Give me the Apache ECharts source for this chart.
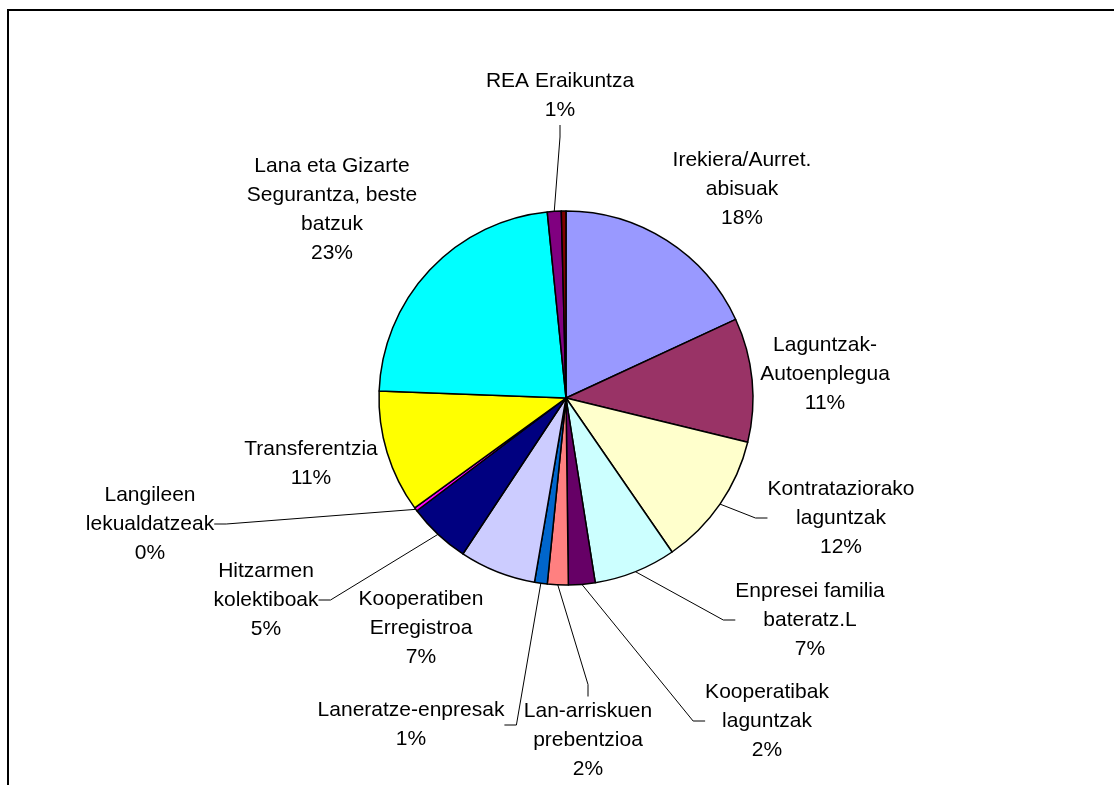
<!DOCTYPE html>
<html>
<head>
<meta charset="utf-8">
<script src="https://cdn.jsdelivr.net/npm/echarts@6/dist/echarts.min.js"></script>
<style>
  html, body { margin: 0; padding: 0; background: #fff; }
  #chart { width: 1114px; height: 785px; }
</style>
</head>
<body>
<div id="chart"></div>
<script>
// Categorieen (met de regelafbreking zoals in het origineel)
const categories = [
  'Irekiera/Aurret.\nabisuak',
  'Laguntzak-\nAutoenplegua',
  'Kontrataziorako\nlaguntzak',
  'Enpresei familia\nbateratz.L',
  'Kooperatibak\nlaguntzak',
  'Lan-arriskuen\nprebentzioa',
  'Laneratze-enpresak',
  'Kooperatiben\nErregistroa',
  'Hitzarmen\nkolektiboak',
  'Langileen\nlekualdatzeak',
  'Transferentzia',
  'Lana eta Gizarte\nSegurantza, beste\nbatzuk',
  'REA Eraikuntza',
  ''
];

// Aandeel per categorie (geschat uit de afbeelding)
const values = [18.1, 10.7, 11.6, 7.1, 2.3, 1.8, 1.1, 6.6, 5.4, 0.3, 10.6, 22.8, 1.2, 0.4];

const colors = [
  '#9999FF', '#993366', '#FFFFCC', '#CCFFFF', '#660066', '#FF8080', '#0066CC',
  '#CCCCFF', '#000080', '#FF00FF', '#FFFF00', '#00FFFF', '#800080', '#800000'
];

// Welke labels hebben een verbindingslijn
const showLine = [false, false, true, true, true, true, true, false, true, true, false, false, true, false];

// Labelposities (midden van het tekstblok)
const labelPos = [
  [742, 189], [825, 374], [841, 518], [810, 620], [767, 721], [588, 740], [411, 725],
  [421, 628], [266, 600], [150, 524], [311, 464], [332, 210], [560, 96], [566, 180]
];

const chartInstance = echarts.init(document.getElementById('chart'));

const seriesData = categories.map((name, i) => ({
  name: name,
  value: values[i],
  itemStyle: { color: colors[i] },
  label: { show: name !== '' },
  labelLine: { show: showLine[i] }
}));

const options = {
  animation: false,
  graphic: [
    {
      type: 'rect',
      shape: { x: 8, y: 10, width: 1300, height: 1000 },
      style: { fill: 'none', stroke: '#000', lineWidth: 2 }
    }
  ],
  series: [
    {
      type: 'pie',
      center: [566, 398],
      radius: 187,
      startAngle: 90,
      clockwise: true,
      avoidLabelOverlap: false,
      itemStyle: { borderColor: '#000', borderWidth: 1.5 },
      label: {
        position: 'outside',
        color: '#000',
        fontFamily: 'Liberation Sans, Arial, sans-serif',
        fontSize: 21,
        lineHeight: 29,
        align: 'center',
        formatter: (p) => p.name + '\n' + Math.round(p.percent) + '%'
      },
      labelLine: {
        length: 10,
        length2: 12,
        lineStyle: { color: '#000', width: 1 }
      },
      labelLayout: (params) => {
        const p = labelPos[params.dataIndex];
        return { x: p[0], y: p[1], align: 'center', verticalAlign: 'middle' };
      },
      emphasis: { disabled: true },
      data: seriesData
    }
  ]
};

chartInstance.setOption(options);

window.addEventListener('resize', () => {
  chartInstance.resize();
});
</script>
</body>
</html>
